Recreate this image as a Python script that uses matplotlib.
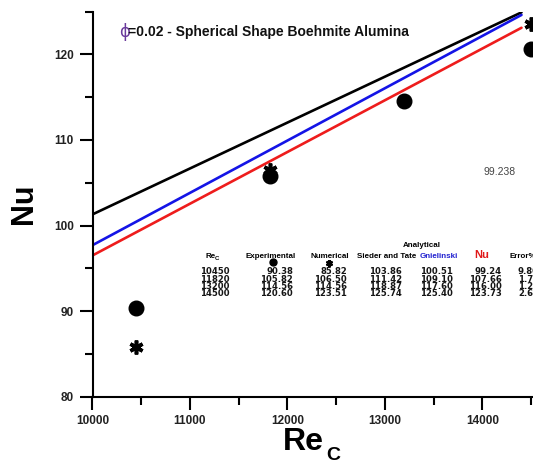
import matplotlib
matplotlib.use("Agg")
import matplotlib.pyplot as plt
from matplotlib.ticker import MultipleLocator
from matplotlib.lines import Line2D

plt.rcParams['font.family'] = ['Liberation Sans', 'DejaVu Sans']

# ---- data ----
re_points = [10450, 11820, 13200, 14500]
experimental = [90.38, 105.82, 114.56, 120.60]
numerical = [85.82, 106.50, 114.56, 123.51]
sieder_tate = [103.86, 111.42, 118.87, 125.74]
gnielinski = [100.51, 109.10, 117.60, 125.40]
nu_analytical = [99.24, 107.66, 116.00, 123.73]
error_pct = ["9.80", "1.74", "1.26", "2.60"]

# fitted lines (start / end)
line_re = [10000, 14400]
line_sieder = [101.3, 124.9]
line_gniel = [97.7, 124.6]
line_nu = [96.5, 123.1]

x_ticks = [10000, 11000, 12000, 13000, 14000]
y_ticks = [80, 90, 100, 110, 120]

W, H = 533, 462
fig = plt.figure(figsize=(W / 100, H / 100), dpi=100)
fx = lambda px: px / W
fy = lambda py: 1 - py / H

ax = fig.add_axes([fx(92.5), fy(396.7), 1 - fx(92.5), fy(11.5) - fy(396.7)])
ax.set_xlim(10000, 10000 + (W - 92.5) / 0.0975)
ax.set_ylim(80, 125)

ax.plot(line_re, line_sieder, color='black', lw=1.9, solid_capstyle='round', zorder=2)
ax.plot(line_re, line_gniel, color='#1414e6', lw=1.9, solid_capstyle='round', zorder=2)
ax.plot(line_re, line_nu, color='#ee1c1c', lw=1.9, solid_capstyle='round', zorder=2)

ax.plot(re_points, experimental, linestyle='none', marker='o', ms=10.5,
        color='black', clip_on=False, zorder=3)
ax.plot(re_points, numerical, linestyle='none', marker=(6, 2, 0), ms=10,
        mew=2.6, color='black', clip_on=False, zorder=4)

for s in ['top', 'right']:
    ax.spines[s].set_visible(False)
for s in ['left', 'bottom']:
    ax.spines[s].set_linewidth(1.5)

ax.xaxis.set_minor_locator(MultipleLocator(500))
ax.yaxis.set_minor_locator(MultipleLocator(5))
ax.set_xticks(x_ticks)
ax.set_xticklabels([str(v) for v in x_ticks])
ax.set_yticks(y_ticks)
ax.set_yticklabels([str(v) for v in y_ticks])
ax.tick_params(which='major', direction='out', length=9.5, width=1.5,
               labelsize=8.5, pad=4)
ax.tick_params(which='minor', direction='out', length=5.5, width=1.5)
for lab in ax.get_xticklabels() + ax.get_yticklabels():
    lab.set_fontweight('bold')
    lab.set_color('#222222')

# axis labels
fig.text(fx(24.5), fy(203.5), 'Nu', rotation=90, fontsize=22, fontweight='bold',
         ha='center', va='center')
fig.text(fx(283), fy(449.5), 'Re', fontsize=23, fontweight='bold', ha='left', va='baseline')
fig.text(fx(326.5), fy(459.5), 'C', fontsize=14, fontweight='bold', ha='left', va='baseline')

# title
fig.text(fx(119), fy(32), '\u03d5', fontsize=12, color='#6a3a9c',
         ha='left', va='center', family=['DejaVu Sans'])
fig.text(fx(128.5), fy(32), '=0.02 - Spherical Shape Boehmite Alumina', fontsize=10,
         fontweight='bold', ha='left', va='center', color='#111111')

fig.text(fx(483), fy(172), '99.238', fontsize=7.5, color='#444444', ha='left', va='center')

# table header
hdr = dict(fontsize=5.8, fontweight='bold', va='center')
fig.text(fx(422), fy(246), 'Analytical', ha='center', **hdr)
fig.text(fx(205), fy(256), 'Re', ha='left', **hdr)
fig.text(fx(215), fy(258.5), 'C', ha='left', fontsize=4.3, fontweight='bold', va='center')
fig.text(fx(271), fy(256), 'Experimental', ha='center', **hdr)
fig.text(fx(330), fy(256), 'Numerical', ha='center', **hdr)
fig.text(fx(387), fy(256), 'Sieder and Tate', ha='center', **hdr)
fig.text(fx(439), fy(256), 'Gnielinski', ha='center', color='#2020d0', **hdr)
fig.text(fx(481.5), fy(255), 'Nu', ha='center', va='center', fontsize=8,
         fontweight='bold', color='#e01818')
fig.text(fx(510), fy(256), 'Error%', ha='left', **hdr)

fig.lines.append(Line2D([fx(273)], [fy(262)], marker='o', ms=5,
                        color='black', transform=fig.transFigure))
fig.lines.append(Line2D([fx(329)], [fy(263)], marker=(6, 2, 0), ms=5,
                        mew=1.6, color='black', transform=fig.transFigure))

# table body: one multi-line text per column
block_y = (271.7 + 293.8) / 2
val = dict(fontsize=6.1, fontweight='bold', va='center', color='#151515',
           family=['DejaVu Sans'], linespacing=0.76)
columns = [
    (230, 'right', [str(v) for v in re_points]),
    (293, 'right', [f'{v:.2f}' for v in experimental]),
    (347, 'right', [f'{v:.2f}' for v in numerical]),
    (402, 'right', [f'{v:.2f}' for v in sieder_tate]),
    (453, 'right', [f'{v:.2f}' for v in gnielinski]),
    (502, 'right', [f'{v:.2f}' for v in nu_analytical]),
    (518, 'left', error_pct),
]
for px, ha, items in columns:
    fig.text(fx(px), fy(block_y), '\n'.join(items), ha=ha, multialignment=ha, **val)

fig.savefig('out.png', dpi=100)
